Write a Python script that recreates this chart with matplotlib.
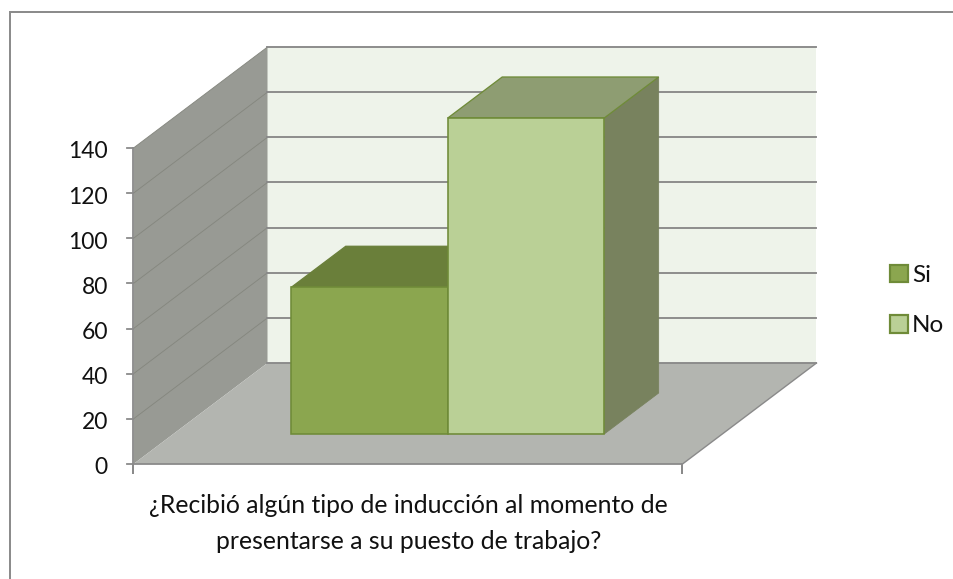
import matplotlib
matplotlib.use('Agg')
import matplotlib.pyplot as plt
from matplotlib.patches import Polygon, Patch

# data
categories = ['Si', 'No']
values = [65, 140]
y_ticks = [0, 20, 40, 60, 80, 100, 120, 140]
x_title = '¿Recibió algún tipo de inducción al momento de\npresentarse a su puesto de trabajo?'

C_FRONT = ['#8BA64F', '#BAD096']
C_TOP = ['#6A7F3A', '#8E9D72']
C_SIDE = ['#6A7F3A', '#78825E']
C_EDGE = '#6F8B38'
C_WALL = '#989A94'
C_FLOOR = '#B3B5B0'
C_BACK = '#EEF3EA'
C_AXIS = '#8A8A8A'
C_FRAME = '#8C8C8C'
C_TEXT = '#111111'
FONT = 'Lato'
PX = 0.72  # one pixel in points at dpi 100

# oblique box geometry, in image pixels
X0, Y0 = 133.5, 464.0   # front left corner, value 0
WIDTH = 549.0           # length of the category axis
DX, DY = 134.0, -101.0  # depth vector
V_SCALE = 316.0 / 140   # pixels per unit
VMAX = max(y_ticks)
BAR_D = (0.297, 0.703)  # front and back of the bars along the depth
BAR_EDGES = [0.215, 0.5, 0.785]


def project(u, d, v):
    return X0 + WIDTH * u + DX * d, Y0 + DY * d - V_SCALE * v


fig = plt.figure(figsize=(9.54, 5.79), dpi=100)
ax = fig.add_axes([0, 0, 1, 1])
ax.set_xlim(0, 954)
ax.set_ylim(579, 0)
ax.axis('off')

# outer chart frame, cut off by the image at right and bottom
ax.plot([10.5, 10.5, 954], [579, 12, 12], color=C_FRAME, lw=2.0 * PX, solid_joinstyle='miter')

# walls and floor
ax.add_patch(Polygon([project(0, 1, 0), project(1, 1, 0), project(1, 1, VMAX), project(0, 1, VMAX)],
                     fc=C_BACK, ec='none', zorder=1))
ax.add_patch(Polygon([project(0, 0, 0), project(0, 1, 0), project(0, 1, VMAX), project(0, 0, VMAX)],
                     fc=C_WALL, ec='none', zorder=1))
ax.add_patch(Polygon([project(0, 0, 0), project(1, 0, 0), project(1, 1, 0), project(0, 1, 0)],
                     fc=C_FLOOR, ec='none', zorder=1))

# gridlines along the back and left walls
for t in y_ticks:
    p0, p1, p2 = project(0, 0, t), project(0, 1, t), project(1, 1, t)
    if t > 0:
        ax.plot([p0[0], p1[0]], [p0[1], p1[1]], color='#85877F', lw=0.9 * PX, zorder=2)
    ax.plot([p1[0], p2[0]], [p1[1], p2[1]], color=C_AXIS, lw=1.9 * PX, zorder=2)
    ax.plot([p0[0] - 6.5, p0[0]], [p0[1], p0[1]], color=C_AXIS, lw=1.8 * PX, zorder=4)
    ax.text(108, p0[1] + 4, str(t), ha='right', va='center', fontsize=16.5,
            family=FONT, color=C_TEXT)

# axis lines and the two category ticks
ax.plot(*zip(project(0, 0, 0), project(0, 0, VMAX)), color=C_AXIS, lw=1.8 * PX, zorder=4)
ax.plot(*zip(project(0, 0, 0), project(1, 0, 0)), color=C_AXIS, lw=1.8 * PX, zorder=4)
ax.plot(*zip(project(1, 0, 0), project(1, 1, 0)), color=C_AXIS, lw=1.4 * PX, zorder=4)
for u in (0, 1):
    x, y = project(u, 0, 0)
    ax.plot([x, x], [y, y + 8.5], color=C_AXIS, lw=2.0 * PX, zorder=4)

# bars, back faces first so the taller one covers the side of the shorter
d0, d1 = BAR_D
for i, v in enumerate(values):
    u0, u1 = BAR_EDGES[i], BAR_EDGES[i + 1]
    top = [project(u0, d0, v), project(u1, d0, v), project(u1, d1, v), project(u0, d1, v)]
    side = [project(u1, d0, 0), project(u1, d1, 0), project(u1, d1, v), project(u1, d0, v)]
    front = [project(u0, d0, 0), project(u1, d0, 0), project(u1, d0, v), project(u0, d0, v)]
    ax.add_patch(Polygon(side, fc=C_SIDE[i], ec=C_SIDE[i], lw=0.8 * PX, zorder=5 + i))
    ax.add_patch(Polygon(top, fc=C_TOP[i], ec=C_TOP[i] if i == 0 else C_EDGE, lw=1.3 * PX, zorder=5 + i))
    ax.add_patch(Polygon(front, fc=C_FRONT[i], ec=C_EDGE, lw=1.6 * PX, zorder=5 + i))

ax.text(408.5, 523.5, x_title, ha='center', va='center', fontsize=17.8, family=FONT,
        color=C_TEXT, linespacing=1.72)

handles = [Patch(fc=C_FRONT[i], ec=C_EDGE, lw=2.2 * PX, label=c) for i, c in enumerate(categories)]
ax.legend(handles=handles, loc='center left', bbox_to_anchor=(890 / 954, 1 - 300.5 / 579),
          frameon=False, handlelength=0.74, handleheight=0.74, handletextpad=0.16,
          labelspacing=1.2, borderpad=0, borderaxespad=0,
          prop={'family': FONT, 'size': 17.5}, labelcolor=C_TEXT)

fig.savefig('out.png', dpi=100)
plt.close()
